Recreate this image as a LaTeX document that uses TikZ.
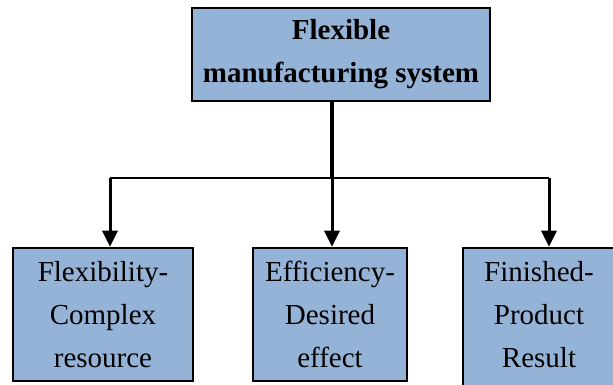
\documentclass[tikz,border=0pt]{standalone}
\usepackage{fontspec}
\setmainfont{Liberation Serif}
\usetikzlibrary{arrows.meta}
\definecolor{boxblue}{RGB}{149,179,215}
\begin{document}
\begin{tikzpicture}[x=1pt,y=1pt,
  box/.style={draw=black,line width=2.6pt,fill=boxblue,inner sep=0pt,align=center,
    font=\fontsize{29}{43}\selectfont},
  boxtext/.style={inner sep=0pt,align=center,font=\fontsize{29}{43}\selectfont},
  stemline/.style={line width=3.4pt},
  busline/.style={line width=2pt},
  arr/.style={line width=3pt,-{Triangle[width=15pt,length=16pt]}}]
\clip (0,0) rectangle (613,-385);
\fill[white] (0,0) rectangle (613,-385);
\node[box,font=\fontsize{29}{43}\selectfont\bfseries,minimum width=298pt,minimum height=93pt]
  (top) at (341,-54.5) {Flexible\\manufacturing system};
\node[box,minimum width=180pt,minimum height=133pt] (left) at (103,-314.5)
  {Flexibility-\\Complex\\resource};
\node[box,minimum width=154pt,minimum height=133pt] (mid) at (330,-314.5)
  {Efficiency-\\Desired\\effect};
\node[box,minimum width=152pt,minimum height=142pt] (right) at (539,-319) {};
\node[boxtext] (righttext) at (539,-314.5) {Finished-\\Product\\Result};
\coordinate (j) at (332,-178);
\coordinate (jl) at (110,-178);
\coordinate (jr) at (549,-178);
\draw[stemline] (top.south -| j) -- (j);
\draw[busline] (jl) -- (jr);
\draw[arr] (jl) -- (jl |- left.north);
\draw[arr] (j) -- (j |- mid.north);
\draw[arr] (jr) -- (jr |- right.north);
\end{tikzpicture}
\end{document}
